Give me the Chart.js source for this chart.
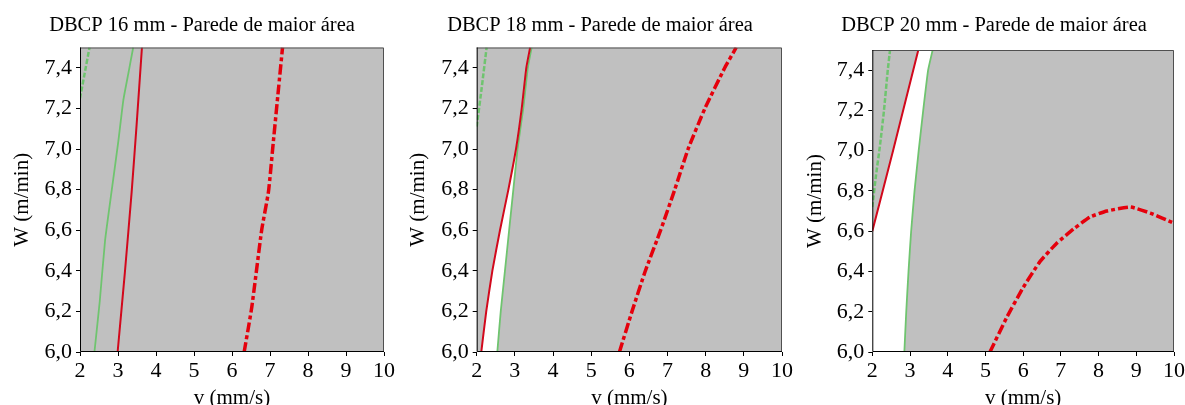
<!DOCTYPE html>
<html>
<head>
<meta charset="utf-8">
<script src="https://cdn.jsdelivr.net/npm/chart.js@4.4.0/dist/chart.umd.min.js"></script>
<style>
  html, body { margin: 0; padding: 0; background: #fff; overflow: hidden; }
  body { width: 1185px; height: 405px; position: relative; }
  canvas { position: absolute; top: 0; }
</style>
</head>
<body>
<canvas id="c16" width="404" height="405" style="left:0px"></canvas>
<canvas id="c18" width="405" height="405" style="left:395px"></canvas>
<canvas id="c20" width="406" height="405" style="left:790px"></canvas>
<script>
// axes
var xMin = 2, xMax = 10, yMin = 6.0, yMax = 7.5;
var xTicks = [2, 3, 4, 5, 6, 7, 8, 9, 10];
var yTicks = [6.0, 6.2, 6.4, 6.6, 6.8, 7.0, 7.2, 7.4];
var titles = ["DBCP 16 mm - Parede de maior área", "DBCP 18 mm - Parede de maior área", "DBCP 20 mm - Parede de maior área"];
var xTitle = "v (mm/s)";
var yTitle = "W (m/min)";

// curves, [v, W] pairs
var greenDashed16 = [[2.0, 7.25], [2.12, 7.37], [2.25, 7.5]];
var greenSolid16  = [[2.38, 6.0], [2.52, 6.25], [2.66, 6.55], [2.83, 6.79], [3.01, 7.04], [3.14, 7.24], [3.27, 7.37], [3.40, 7.5]];
var redSolid16    = [[2.99, 6.0], [3.18, 6.39], [3.36, 6.79], [3.49, 7.12], [3.63, 7.5]];
var redDashDot16  = [[6.32, 6.0], [6.52, 6.22], [6.78, 6.6], [6.96, 6.79], [7.09, 7.04], [7.22, 7.29], [7.33, 7.5]];

var greenDashed18 = [[2.0, 7.11], [2.13, 7.3], [2.26, 7.5]];
var redSolid18    = [[2.12, 6.0], [2.25, 6.2], [2.41, 6.4], [2.61, 6.6], [2.83, 6.8], [3.03, 7.0], [3.18, 7.2], [3.30, 7.4], [3.40, 7.5]];
var greenSolid18  = [[2.54, 6.0], [2.63, 6.2], [2.74, 6.4], [2.85, 6.6], [2.96, 6.8], [3.07, 7.0], [3.22, 7.2], [3.34, 7.4], [3.44, 7.5]];
var redDashDot18  = [[5.74, 6.0], [6.07, 6.2], [6.42, 6.4], [6.82, 6.6], [7.19, 6.8], [7.54, 7.0], [7.98, 7.2], [8.5, 7.4], [8.8, 7.5]];

var greenDashed20 = [[2.0, 6.72], [2.1, 6.88], [2.2, 7.02], [2.31, 7.2], [2.41, 7.4], [2.47, 7.5]];
var redSolid20    = [[2.0, 6.6], [2.55, 7.0], [3.22, 7.5]];
var greenSolid20  = [[2.85, 6.0], [2.90, 6.2], [2.96, 6.4], [3.03, 6.6], [3.12, 6.8], [3.23, 7.0], [3.35, 7.2], [3.48, 7.4], [3.60, 7.5]];
var redDashDot20  = [[5.12, 6.0], [5.56, 6.17], [6.0, 6.32], [6.45, 6.45], [6.89, 6.54], [7.33, 6.61], [7.77, 6.67], [8.22, 6.70], [8.84, 6.72], [9.37, 6.69], [10.0, 6.64]];

var FONT = "'Liberation Serif', 'Times New Roman', serif";
var GREEN = '#6fc46f';
var RED = '#d2081c';
var RED_DD = '#e5000c';

function pts(arr) {
    return arr.map(function (p) { return {x: p[0], y: p[1]}; });
}

// gray plot area + frame
var plotFrame = {
    id: 'plotFrame',
    beforeDraw: function (chart) {
        var a = chart.chartArea, ctx = chart.ctx;
        ctx.save();
        ctx.fillStyle = '#c0c0c0';
        ctx.fillRect(a.left, a.top, a.right - a.left, a.bottom - a.top);
        ctx.restore();
    },
    afterDatasetsDraw: function (chart) {
        var a = chart.chartArea, ctx = chart.ctx;
        ctx.save();
        ctx.lineWidth = 1;
        ctx.strokeStyle = '#505050';
        ctx.beginPath();
        ctx.moveTo(a.left, a.top + 0.5);
        ctx.lineTo(a.right - 0.5, a.top + 0.5);
        ctx.lineTo(a.right - 0.5, a.bottom);
        ctx.stroke();
        ctx.strokeStyle = '#000';
        ctx.beginPath();
        ctx.moveTo(a.left + 0.5, a.top);
        ctx.lineTo(a.left + 0.5, a.bottom - 0.5);
        ctx.lineTo(a.right, a.bottom - 0.5);
        ctx.stroke();
        ctx.restore();
    }
};

function makeChart(id, p) {
    var datasets = [];
    if (p.region) {
        datasets.push({data: pts(p.region), showLine: true, fill: 'shape', backgroundColor: '#ffffff', borderWidth: 0, pointRadius: 0, order: 10, tension: 0});
    }
    datasets.push({data: pts(p.greenDashed), showLine: true, borderColor: GREEN, borderWidth: 2.5, borderDash: [5, 2], pointRadius: 0, order: 3});
    datasets.push({data: pts(p.greenSolid), showLine: true, borderColor: GREEN, borderWidth: 1.8, pointRadius: 0, order: 2});
    datasets.push({data: pts(p.redSolid), showLine: true, borderColor: RED, borderWidth: 2, pointRadius: 0, order: 1});
    datasets.push({data: pts(p.redDashDot), showLine: true, borderColor: RED_DD, borderWidth: 3.5, borderDash: [10, 3, 4, 3], pointRadius: 0, order: 0});
    datasets.forEach(function (d) {
        d.clip = 0;
        if (d.tension === undefined) d.tension = 0.15;
    });

    return new Chart(document.getElementById(id), {
        type: 'scatter',
        data: {datasets: datasets},
        plugins: [plotFrame],
        options: {
            responsive: false,
            animation: false,
            devicePixelRatio: 1,
            layout: {padding: {left: p.padLeft, right: p.padRight, top: 0, bottom: 0}},
            plugins: {
                legend: {display: false},
                tooltip: {enabled: false},
                title: {
                    display: true,
                    text: p.title,
                    color: '#000',
                    font: {family: FONT, size: 20.5, weight: 'normal', lineHeight: 1},
                    padding: {top: 15, bottom: p.plotTop - 35.5}
                }
            },
            scales: {
                x: {
                    type: 'linear', min: xMin, max: xMax,
                    afterBuildTicks: function (s) { s.ticks = xTicks.map(function (v) { return {value: v}; }); },
                    afterFit: function (s) { s.height = 53; },
                    grid: {drawOnChartArea: false, drawTicks: true, tickLength: 4, tickColor: '#000'},
                    border: {display: false},
                    ticks: {color: '#000', padding: 2, maxRotation: 0, font: {family: FONT, size: 22}, callback: function (v) { return String(v); }},
                    title: {display: true, text: xTitle, color: '#000', font: {family: FONT, size: 21, lineHeight: 1}, padding: {top: 0, bottom: -3.5}}
                },
                y: {
                    type: 'linear', min: yMin, max: yMax,
                    afterBuildTicks: function (s) { s.ticks = yTicks.map(function (v) { return {value: v}; }); },
                    afterFit: function (s) { s.width = p.yAxisWidth; },
                    grid: {drawOnChartArea: false, drawTicks: true, tickLength: 4, tickColor: '#000'},
                    border: {display: false},
                    ticks: {color: '#000', padding: 4, font: {family: FONT, size: 22}, callback: function (v) { return v.toFixed(1).replace('.', ','); }},
                    title: {display: true, text: yTitle, color: '#000', font: {family: FONT, size: 21, lineHeight: 1}, padding: {top: p.yTitlePad, bottom: 0}}
                }
            }
        }
    });
}

makeChart('c16', {
    title: titles[0], padLeft: 20, padRight: 20, yAxisWidth: 60, yTitlePad: -8, plotTop: 47.5,
    greenDashed: greenDashed16, greenSolid: greenSolid16, redSolid: redSolid16, redDashDot: redDashDot16
});
makeChart('c18', {
    title: titles[1], padLeft: 23, padRight: 18, yAxisWidth: 58.7, yTitlePad: -10, plotTop: 47.5,
    greenDashed: greenDashed18, greenSolid: greenSolid18, redSolid: redSolid18, redDashDot: redDashDot18,
    region: redSolid18.concat(greenSolid18.slice().reverse())
});
makeChart('c20', {
    title: titles[2], padLeft: 24, padRight: 22, yAxisWidth: 58.3, yTitlePad: -9.5, plotTop: 50,
    greenDashed: greenDashed20, greenSolid: greenSolid20, redSolid: redSolid20, redDashDot: redDashDot20,
    region: [[xMin, yMin]].concat(redSolid20, greenSolid20.slice().reverse())
});
</script>
</body>
</html>
